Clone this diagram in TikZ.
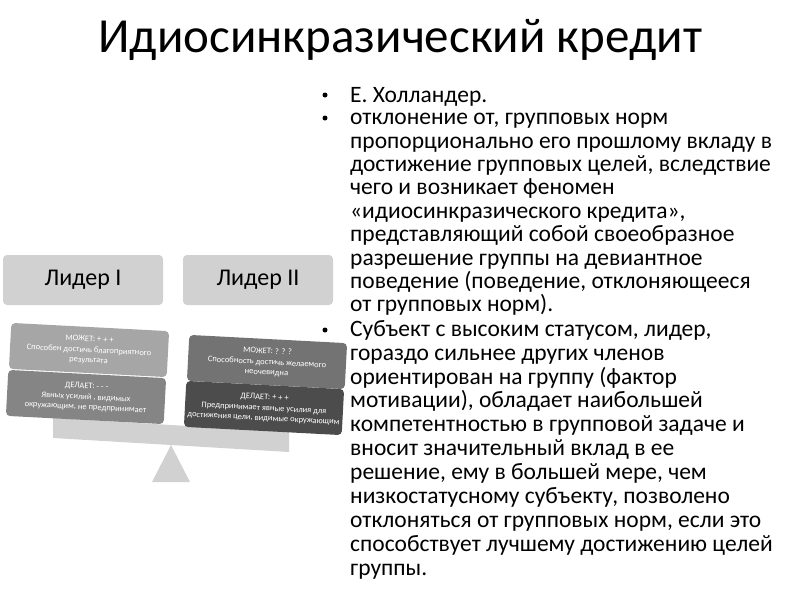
\documentclass[tikz,border=0pt]{standalone}
\usepackage{fontspec}
\setmainfont{Carlito}
\begin{document}
\begin{tikzpicture}[x=1pt,y=-1pt,
  lead/.style={draw=none,fill=black!18,rounded corners=4pt,minimum width=#1,minimum height=50,font=\fontsize{24}{28}\selectfont},
  small/.style={rounded corners=4pt,minimum width=158,minimum height=46,text=white,align=center,font=\fontsize{8.5}{10}\selectfont,inner sep=1pt},
  body/.style={anchor=north west,align=left,inner sep=0,font=\fontsize{23.5}{#1}\selectfont},
  dot/.style={circle,fill=black,inner sep=0,minimum size=5}]
\useasboundingbox (0,0) rectangle (800,600);
\node (title) at (400,40) {\fontsize{49}{56}\selectfont Идиосинкразический кредит};
\node[lead=160] (l1) at (83,280) {Лидер I};
\node[lead=150] (l2) at (258,280) {Лидер II};
\fill[black!18] (53,418) -- (289,432) -- (289,452) -- (53,438) -- cycle;
\coordinate (apex) at (171,445);
\fill[black!18] (apex) -- (190,482) -- (152,482) -- cycle;
\node[small,fill=black!35,rotate=-3] (m1) at (89,350) {МОЖЕТ: + + +\\[1pt]Способен достичь благоприятного\\результата};
\node[small,fill=black!48,rotate=-3] (d1) at (86,397) {ДЕЛАЕТ: - - -\\[1pt]Явных усилий , видимых\\окружающим,  не предпринимает};
\node[small,fill=black!55,rotate=-3] (m2) at (267,362) {МОЖЕТ: ? ? ?\\[1pt]Способность достичь желаемого\\неочевидна};
\node[small,fill=black!70,rotate=-3] (d2) at (264,408) {ДЕЛАЕТ: + + +\\[1pt]Предпринимает явные усилия для\\достижения цели, видимые окружающим};
\node[body=23.4] (b1) at (350,87) {Е. Холландер.};
\node[body=23.4] (b2) at (350,113) {отклонение от, групповых норм\\пропорционально его прошлому вкладу в\\достижение групповых целей, вследствие\\чего и возникает феномен\\«идиосинкразического кредита»,\\представляющий собой своеобразное\\разрешение группы на девиантное\\поведение (поведение, отклоняющееся\\от групповых норм).};
\node[body=23.9] (b3) at (350,320) {Субъект с высоким статусом, лидер,\\гораздо сильнее других членов\\ориентирован на группу (фактор\\мотивации), обладает наибольшей\\компетентностью в групповой задаче и\\вносит значительный вклад в ее\\решение, ему в большей мере, чем\\низкостатусному субъекту, позволено\\отклоняться от групповых норм, если это\\способствует лучшему достижению целей\\группы.};
\foreach \y/\n in {95/p1,118/p2,330/p3} \node[dot] (\n) at (325,\y) {};
\end{tikzpicture}
\end{document}
